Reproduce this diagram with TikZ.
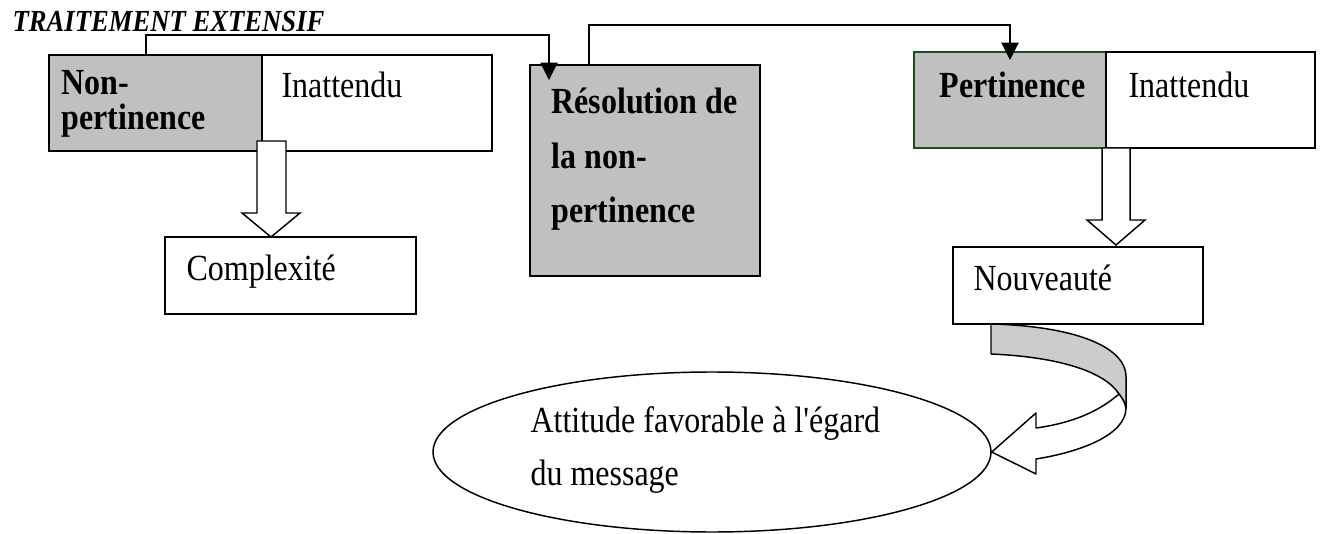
\documentclass[tikz,border=0pt]{standalone}
\usepackage{fontspec}
\setmainfont{Liberation Serif}
\usetikzlibrary{shapes.geometric, arrows.meta, positioning, calc}

\definecolor{boxgrey}{HTML}{C0C0C0}
\definecolor{bandgrey}{HTML}{CCCCCC}
\definecolor{pertgreen}{HTML}{1E4D1E}

\begin{document}
\begin{tikzpicture}[
    x=0.375pt, y=-0.375pt,
    box/.style={draw, line width=0.55pt, anchor=north west, inner sep=0pt, outer sep=0pt},
    greybox/.style={box, fill=boxgrey},
    label/.style={anchor=north west, inner sep=0pt, align=left, yscale=1.15, transform shape,
                  font=\fontsize{12}{#1}\selectfont},
    label/.default=14,
    boldlabel/.style={label=#1, font=\fontsize{12}{#1}\selectfont\bfseries},
    boldlabel/.default=14,
    link/.style={line width=0.4pt, -{Triangle[length=6.5pt, width=6.5pt]}},
    blockarrow/.style={draw, line width=0.55pt, fill=white, line join=miter}
]
    \useasboundingbox (0,0) rectangle (1323,534);

    % Title
    \node[anchor=north west, inner sep=0pt, yscale=1.15, transform shape,
          font=\fontsize{10}{12}\selectfont\bfseries\itshape]
        (title) at (12,11) {TRAITEMENT EXTENSIF};

    % Left block
    \node[greybox, minimum width=79.875pt, minimum height=36pt] (nonpert) at (49,55) {};
    \node[box, minimum width=86.25pt, minimum height=36pt] (inatt1) at (262,55) {};
    \node[box, minimum width=94.125pt, minimum height=28.875pt] (complex) at (165,237) {};

    % Middle block
    \node[greybox, minimum width=86.25pt, minimum height=79.125pt] (resol) at (530,65) {};

    % Right block
    \node[greybox, draw=pertgreen, minimum width=72pt, minimum height=36pt] (pert) at (914,52) {};
    \node[box, minimum width=78.375pt, minimum height=36pt] (inatt2) at (1106,52) {};
    \node[box, minimum width=93.75pt, minimum height=28.875pt] (nouv) at (953,247) {};

    % Ellipse
    \node[ellipse, draw, line width=0.55pt, minimum width=209.25pt, minimum height=60pt,
          inner sep=0pt] (attitude) at (712,452) {};

    % Texts
    \node[boldlabel=11.2] (nonpert-t) at (61,70) {Non-\\pertinence};
    \node[label] (inatt1-t) at (281,71) {Inattendu};
    \node[boldlabel=17.9] (resol-t) at (551,87) {Résolution de\\la non-\\pertinence};
    \node[boldlabel] (pert-t) at (939,71) {Pertinence};
    \node[label] (inatt2-t) at (1128,71) {Inattendu};
    \node[label] (complex-t) at (186,254) {Complexité};
    \node[label] (nouv-t) at (973,264) {Nouveauté};
    \node[label=17.3] (attitude-t) at (530,406)
        {Attitude favorable à l\textquotesingle égard\\du message};

    % Elbow links
    \draw[link] ($(nonpert.north west)+(97,0)$) |- ($(resol.north west)+(19,-30)$)
        -- ($(resol.north west)+(19,15)$);
    \draw[link] ($(resol.north west)+(59,0)$) |- ($(pert.north west)+(96,-27)$)
        -- ($(pert.north west)+(96,8)$);

    % Block arrows down
    \draw[blockarrow] ($(complex.north west)+(92,-96)$) -- ($(complex.north west)+(92,-24)$)
        -- ($(complex.north west)+(77,-24)$) -- ($(complex.north west)+(106,0)$)
        -- ($(complex.north west)+(135,-24)$) -- ($(complex.north west)+(121,-24)$)
        -- ($(complex.north west)+(121,-96)$) -- cycle;
    \draw[blockarrow] ($(nouv.north west)+(149,-99)$) -- ($(nouv.north west)+(149,-27)$)
        -- ($(nouv.north west)+(134,-27)$) -- ($(nouv.north west)+(163,-2)$)
        -- ($(nouv.north west)+(192,-27)$) -- ($(nouv.north west)+(177,-27)$)
        -- ($(nouv.north west)+(177,-99)$) -- cycle;

    % Curved ribbon arrow to the ellipse
    \coordinate (r0) at ($(nouv.south west)+(38,0)$);
    \coordinate (rtip) at (attitude.east);
    \draw[line width=0.55pt, fill=bandgrey, line join=round]
        (r0) .. controls (1070,326) and (1126,345) .. (1126,377)
        -- (1126,408) .. controls (1124,401) .. (1119,394)
        .. controls (1105,372) and (1060,357) .. (991,354) -- cycle;
    \draw[blockarrow, line join=round]
        (1119,394) .. controls (1095,415) and (1065,424) .. (1036,428)
        -- (1036,413) -- (rtip) -- (1036,474) -- (1036,459)
        .. controls (1080,452) and (1126,435) .. (1126,408)
        .. controls (1124,401) .. cycle;
\end{tikzpicture}
\end{document}
